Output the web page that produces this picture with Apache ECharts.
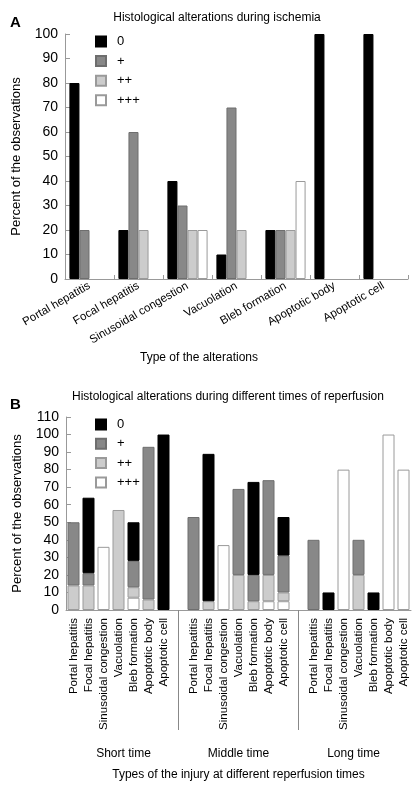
<!DOCTYPE html>
<html>
<head>
<meta charset="utf-8">
<script src="https://cdn.jsdelivr.net/npm/echarts@6/dist/echarts.min.js"></script>
<style>html,body{margin:0;padding:0;background:#fff}#c{width:420px;height:786px}</style>
</head>
<body>
<div id="c"></div>
<script>
// ---------- Panel A data ----------
var catsA = ['Portal hepatitis','Focal hepatitis','Sinusoidal congestion','Vacuolation','Bleb formation','Apoptotic body','Apoptotic cell'];
var a0   = [80, 20, 40, 10, 20, 100, 100];
var aP1  = [20, 60, 30, 70, 20, 0, 0];
var aP2  = [0, 20, 20, 20, 20, 0, 0];
var aP3  = [0, 0, 20, 0, 40, 0, 0];
var ticksA = [0,10,20,30,40,50,60,70,80,90,100];

// ---------- Panel B data (stacked segments; '' = gap between groups) ----------
var catsB = ['Portal hepatitis','Focal hepatitis','Sinusoidal congestion','Vacuolation','Bleb formation','Apoptotic body','Apoptotic cell','',
             'Portal hepatitis','Focal hepatitis','Sinusoidal congestion','Vacuolation','Bleb formation','Apoptotic body','Apoptotic cell','',
             'Portal hepatitis','Focal hepatitis','Sinusoidal congestion','Vacuolation','Bleb formation','Apoptotic body','Apoptotic cell'];
var groupsB = ['Short time','Middle time','Long time'];
var bP3 = [0,0,36,0,7,0,0,   0,  0,0,37,0,0,5,5,    0,  0,0,80,0,0,100,80];
var bP2 = [14,14,0,57,6,6,0, 0,  0,5,0,20,5,15,5,   0,  0,0,0,20,0,0,0];
var bP1 = [36,7,0,0,15,87,0, 0,  53,0,0,49,15,54,21, 0, 40,0,0,20,0,0,0];
var b0  = [0,43,0,0,22,0,100, 0, 0,84,0,0,53,0,22,  0,  0,10,0,0,10,0,0];
var ticksB = [0,10,20,30,40,50,60,70,80,90,100,110];

var levels = ['0','+','++','+++'];
var fills   = ['#000000','#888888','#cccccc','#ffffff'];
var borders = ['#000000','#6e6e6e','#9a9a9a','#9a9a9a'];

// zero-valued entries are not drawn (no empty outline)
function nz(arr){ return arr.map(function(v){ return v === 0 ? '-' : v; }); }

var FF = 'Liberation Sans, Arial, sans-serif';
var chart = echarts.init(document.getElementById('c'), null, {renderer:'canvas'});

function style(i){ return {color: fills[i], borderColor: borders[i], borderWidth: 1}; }

var option = {
  backgroundColor: '#ffffff',
  animation: false,
  textStyle: {fontFamily: FF, color: '#000'},
  title: [
    {text: 'A', left: 5, top: 10, textStyle: {fontSize: 15, fontWeight: 'bold', fontFamily: FF, color: '#000'}},
    {text: 'Histological alterations during ischemia', left: 212, top: 7, textAlign: 'center', textStyle: {fontSize: 12, fontWeight: 'normal', fontFamily: FF, color: '#000'}},
    {text: 'Type of the alterations', left: 194, top: 347, textAlign: 'center', textStyle: {fontSize: 12, fontWeight: 'normal', fontFamily: FF, color: '#000'}},
    {text: 'B', left: 5, top: 392, textStyle: {fontSize: 15, fontWeight: 'bold', fontFamily: FF, color: '#000'}},
    {text: 'Histological alterations during different times of reperfusion', left: 223, top: 386, textAlign: 'center', textStyle: {fontSize: 12, fontWeight: 'normal', fontFamily: FF, color: '#000'}}
  ],
  legend: [
    {data: levels, orient: 'vertical', left: 90, top: 30, itemWidth: 10, itemHeight: 10, itemGap: 6.6, icon: 'rect',
     textStyle: {fontSize: 13, padding: [0,0,0,6], fontFamily: FF, color: '#000'}, selectedMode: false},
    {data: levels, orient: 'vertical', left: 90, top: 413, itemWidth: 10, itemHeight: 10, itemGap: 6.3, icon: 'rect',
     textStyle: {fontSize: 13, padding: [0,0,0,6], fontFamily: FF, color: '#000'}, selectedMode: false}
  ],
  grid: [
    {left: 65, top: 34, width: 343, height: 245},
    {left: 66, top: 417, width: 345, height: 193}
  ],
  xAxis: [
    {gridIndex: 0, type: 'category', data: catsA,
     axisLine: {lineStyle: {color: '#999', width: 1}},
     axisTick: {show: true, inside: true, length: 4, lineStyle: {color: '#999'}},
     axisLabel: {rotate: 30, fontSize: 11.5, color: '#000', margin: 6, interval: 0, fontFamily: FF}},
    {gridIndex: 1, type: 'category', data: catsB,
     axisLine: {lineStyle: {color: '#999', width: 1}},
     axisTick: {show: true, alignWithLabel: true, length: 120, lineStyle: {color: '#888'},
                interval: function(i){ return i === 7 || i === 15; }},
     axisLabel: {rotate: 90, fontSize: 11.5, color: '#000', margin: 8, interval: 0, fontFamily: FF}},
    {gridIndex: 1, type: 'category', data: groupsB, position: 'bottom', offset: 134,
     axisLine: {show: false}, axisTick: {show: false},
     axisLabel: {fontSize: 12, color: '#000', margin: 4, fontFamily: FF},
     name: 'Types of the injury at different reperfusion times', nameLocation: 'middle', nameGap: 25,
     nameTextStyle: {fontSize: 12, color: '#000', fontFamily: FF}}
  ],
  yAxis: [
    {gridIndex: 0, type: 'value', min: 0, max: 100, interval: 10,
     axisLine: {show: true, lineStyle: {color: '#999'}},
     axisTick: {show: true, inside: true, length: 5, lineStyle: {color: '#999'}},
     splitLine: {show: false},
     axisLabel: {fontSize: 14, color: '#000', margin: 7, fontFamily: FF},
     name: 'Percent of the observations', nameLocation: 'middle', nameGap: 42,
     nameTextStyle: {fontSize: 13, color: '#000', fontFamily: FF}},
    {gridIndex: 1, type: 'value', min: 0, max: 110, interval: 10,
     axisLine: {show: true, lineStyle: {color: '#999'}},
     axisTick: {show: true, inside: true, length: 5, lineStyle: {color: '#999'}},
     splitLine: {show: false},
     axisLabel: {fontSize: 14, color: '#000', margin: 7, fontFamily: FF},
     name: 'Percent of the observations', nameLocation: 'middle', nameGap: 42,
     nameTextStyle: {fontSize: 13, color: '#000', fontFamily: FF}}
  ],
  series: [
    {name: '0',   type: 'bar', xAxisIndex: 0, yAxisIndex: 0, data: nz(a0),  itemStyle: style(0), barGap: '0%', barCategoryGap: '18%'},
    {name: '+',   type: 'bar', xAxisIndex: 0, yAxisIndex: 0, data: nz(aP1), itemStyle: style(1), barGap: '0%', barCategoryGap: '18%'},
    {name: '++',  type: 'bar', xAxisIndex: 0, yAxisIndex: 0, data: nz(aP2), itemStyle: style(2), barGap: '0%', barCategoryGap: '18%'},
    {name: '+++', type: 'bar', xAxisIndex: 0, yAxisIndex: 0, data: nz(aP3), itemStyle: style(3), barGap: '0%', barCategoryGap: '18%'},
    {name: '+++', type: 'bar', xAxisIndex: 1, yAxisIndex: 1, stack: 'b', data: nz(bP3), itemStyle: style(3), barCategoryGap: '20%'},
    {name: '++',  type: 'bar', xAxisIndex: 1, yAxisIndex: 1, stack: 'b', data: nz(bP2), itemStyle: style(2), barCategoryGap: '20%'},
    {name: '+',   type: 'bar', xAxisIndex: 1, yAxisIndex: 1, stack: 'b', data: nz(bP1), itemStyle: style(1), barCategoryGap: '20%'},
    {name: '0',   type: 'bar', xAxisIndex: 1, yAxisIndex: 1, stack: 'b', data: nz(b0),  itemStyle: style(0), barCategoryGap: '20%'}
  ]
};
chart.setOption(option);
</script>
</body>
</html>
